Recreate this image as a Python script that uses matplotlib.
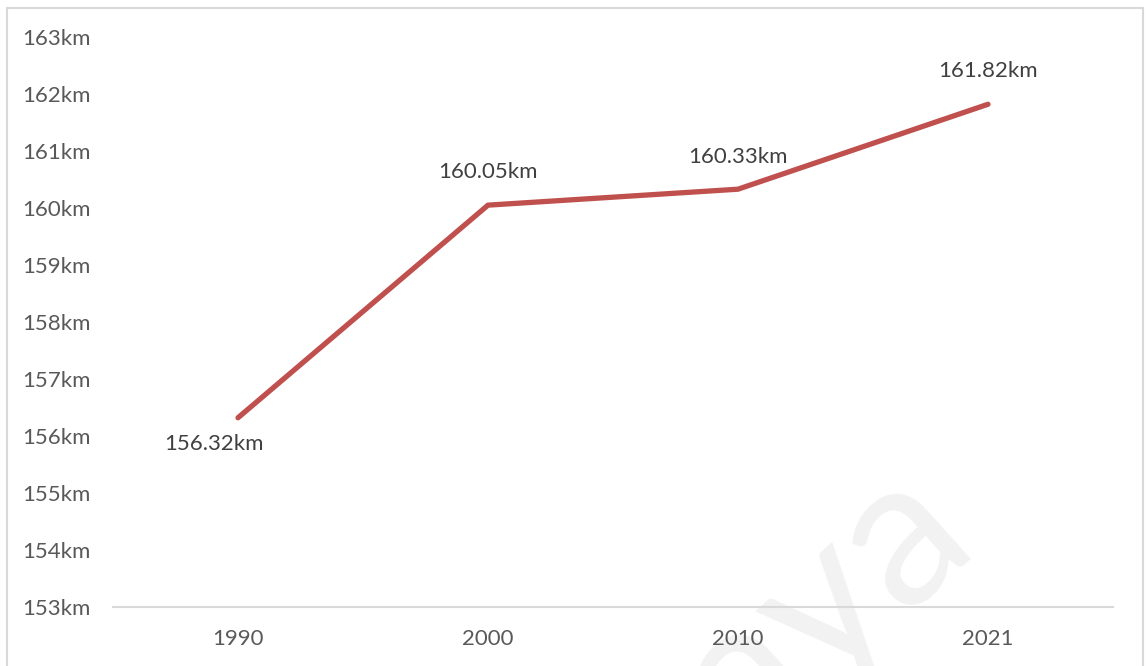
import matplotlib
matplotlib.use("Agg")
import matplotlib.pyplot as plt
from matplotlib.lines import Line2D

# Data
years = ["1990", "2000", "2010", "2021"]
distance_km = [156.32, 160.05, 160.33, 161.82]
y_ticks = list(range(153, 164))
# label offsets (points) relative to each point
label_offsets = [(-17, -19), (0, 24), (0, 23), (0, 24)]

W, H, DPI = 1147, 666, 100
fig = plt.figure(figsize=(W / DPI, H / DPI), dpi=DPI)
fig.patch.set_facecolor("white")

plt.rcParams["font.family"] = ["Lato", "DejaVu Sans"]

# outer frame
frame_color = "#d9d9d9"
fig.add_artist(Line2D([7.5 / W, 7.5 / W], [0, 1 - 8 / H], transform=fig.transFigure,
                      color=frame_color, lw=1.5))
fig.add_artist(Line2D([1142.5 / W, 1142.5 / W], [0, 1 - 8 / H], transform=fig.transFigure,
                      color=frame_color, lw=1.5))
fig.add_artist(Line2D([7.5 / W, 1142.5 / W], [1 - 8 / H, 1 - 8 / H], transform=fig.transFigure,
                      color=frame_color, lw=1.5))

# faint watermark, drawn beneath the axes
fig.text(785 / W, 1 - 641 / H, "aaya", fontsize=150, color="#f2f2f2",
         rotation=42, ha="center", va="center", rotation_mode="anchor", zorder=-5)

left, right = 113 / W, 1113 / W
bottom, top = 1 - 607 / H, 1 - 37 / H
ax = fig.add_axes([left, bottom, right - left, top - bottom])
ax.set_facecolor("none")
ax.set_zorder(1)

x = list(range(len(years)))
ax.plot(x, distance_km, color="#C0504D", lw=3.8, solid_capstyle="round",
        solid_joinstyle="round", zorder=3)

for xi, v, off in zip(x, distance_km, label_offsets):
    ax.annotate(f"{v:.2f}km", (xi, v), xytext=off, textcoords="offset points",
                ha="center", va="center", fontsize=16, color="#404040")

ax.set_xlim(-0.5, len(years) - 0.5)
ax.set_ylim(153, 163)
ax.set_xticks(x)
ax.set_xticklabels(years)
ax.set_yticks(y_ticks)
ax.set_yticklabels([f"{t}km" for t in y_ticks])

for s in ["top", "right", "left"]:
    ax.spines[s].set_visible(False)
ax.spines["bottom"].set_color("#d9d9d9")
ax.spines["bottom"].set_linewidth(1.5)

ax.tick_params(axis="both", length=0, labelsize=16, colors="#595959")
ax.tick_params(axis="y", pad=16)
ax.tick_params(axis="x", pad=16)

fig.savefig("out.png", dpi=DPI, facecolor="white")
